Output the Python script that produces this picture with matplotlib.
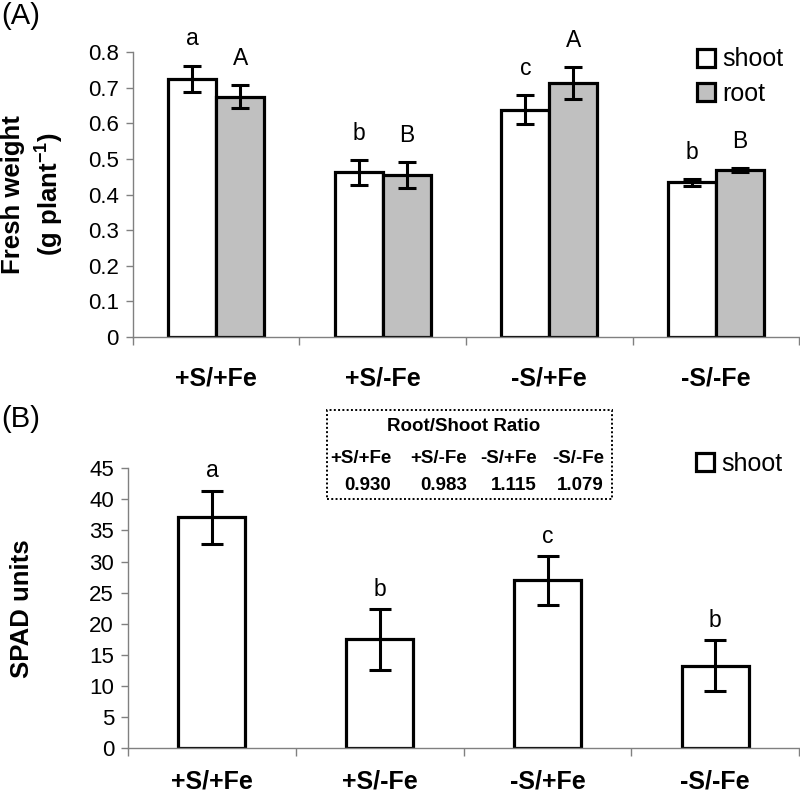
import matplotlib
matplotlib.use("Agg")
import matplotlib.pyplot as plt
from matplotlib.patches import Rectangle
import numpy as np

plt.rcParams['font.family'] = ['Liberation Sans', 'DejaVu Sans']
plt.rcParams['mathtext.fontset'] = 'custom'
plt.rcParams['mathtext.rm'] = 'Liberation Sans:bold'
plt.rcParams['mathtext.default'] = 'rm'

# ---------------- data ----------------
categories = ['+S/+Fe', '+S/-Fe', '-S/+Fe', '-S/-Fe']
shoot_fw = [0.725, 0.462, 0.638, 0.434]
shoot_fw_err = [0.037, 0.035, 0.041, 0.010]
root_fw = [0.675, 0.455, 0.712, 0.469]
root_fw_err = [0.033, 0.036, 0.045, 0.005]
shoot_letters = ['a', 'b', 'c', 'b']
root_letters = ['A', 'B', 'A', 'B']

spad = [37.1, 17.5, 27.0, 13.3]
spad_err = [4.3, 4.9, 3.9, 4.1]
spad_letters = ['a', 'b', 'c', 'b']

ratio_title = 'Root/Shoot Ratio'
ratio_labels = ['+S/+Fe', '+S/-Fe', '-S/+Fe', '-S/-Fe']
ratio_values = ['0.930', '0.983', '1.115', '1.079']

fw_ticks = [0, 0.1, 0.2, 0.3, 0.4, 0.5, 0.6, 0.7, 0.8]
spad_ticks = [0, 5, 10, 15, 20, 25, 30, 35, 40, 45]

# ---------------- style ----------------
GRAY_AX = '#808080'
ROOT_C = '#c0c0c0'
EDGE_LW = 2.3
TICK_FS = 16
XLAB_FS = 18
YLAB_FS = 18.5
LET_FS = 16.5
LEG_FS = 18
TAB_FS = 13.5

fig = plt.figure(figsize=(8.0, 7.98), dpi=100)
axA = fig.add_axes([0.166, 0.5777, 0.833, 0.3571])
axB = fig.add_axes([0.160, 0.0623, 0.839, 0.3509])

x = np.arange(len(categories))


def style_axis(ax, ticks, fmt, xpad):
    for s in ['top', 'right']:
        ax.spines[s].set_visible(False)
    for s in ['left', 'bottom']:
        ax.spines[s].set_color(GRAY_AX)
        ax.spines[s].set_linewidth(1.0)
    ax.set_xlim(-0.5, len(categories) - 0.5)
    ax.set_yticks(ticks)
    ax.set_yticklabels([fmt(t) for t in ticks], fontsize=TICK_FS)
    ax.set_ylim(ticks[0], ticks[-1])
    ax.tick_params(axis='y', direction='out', length=5, width=1, color=GRAY_AX, pad=5)
    ax.set_xticks(x)
    ax.set_xticklabels(categories, fontsize=XLAB_FS, fontweight='bold')
    ax.tick_params(axis='x', which='major', length=0, pad=xpad)
    ax.set_xticks(np.arange(len(categories) + 1) - 0.5, minor=True)
    ax.tick_params(axis='x', which='minor', direction='out', length=6, width=1, color=GRAY_AX)


# ---------------- panel A ----------------
w = 0.288
bs = axA.bar(x - w / 2, shoot_fw, w, color='white', edgecolor='black', linewidth=EDGE_LW,
             label='shoot', zorder=2)
br = axA.bar(x + w / 2, root_fw, w, color=ROOT_C, edgecolor='black', linewidth=EDGE_LW,
             label='root', zorder=2)
axA.errorbar(x - w / 2, shoot_fw, yerr=shoot_fw_err, fmt='none', ecolor='black',
             elinewidth=2.2, capsize=6.5, capthick=2.2, zorder=3)
axA.errorbar(x + w / 2, root_fw, yerr=root_fw_err, fmt='none', ecolor='black',
             elinewidth=2.2, capsize=6.5, capthick=2.2, zorder=3)
for i in range(len(categories)):
    axA.annotate(shoot_letters[i], (x[i] - w / 2, shoot_fw[i] + shoot_fw_err[i]),
                 xytext=(0, 11), textcoords='offset points', ha='center', va='bottom',
                 fontsize=LET_FS)
    axA.annotate(root_letters[i], (x[i] + w / 2, root_fw[i] + root_fw_err[i]),
                 xytext=(0, 11), textcoords='offset points', ha='center', va='bottom',
                 fontsize=LET_FS)

style_axis(axA, fw_ticks, lambda t: ('%g' % t), 21)
axA.set_ylabel('Fresh weight\n(g plant$^{-1}$)', fontsize=YLAB_FS, fontweight='bold',
               linespacing=1.35)
axA.yaxis.set_label_coords(-0.100, 0.5)
axA.legend(handles=[bs, br], loc='upper left', bbox_to_anchor=(0.846, 1.016),
           frameon=False, fontsize=LEG_FS, handlelength=0.72, handleheight=0.72,
           handletextpad=0.3, labelspacing=0.42, borderpad=0, borderaxespad=0)

# ---------------- panel B ----------------
wb = 0.40
bb = axB.bar(x, spad, wb, color='white', edgecolor='black', linewidth=EDGE_LW,
             label='shoot', zorder=2)
axB.errorbar(x, spad, yerr=spad_err, fmt='none', ecolor='black',
             elinewidth=2.2, capsize=8, capthick=2.2, zorder=3)
for i in range(len(categories)):
    axB.annotate(spad_letters[i], (x[i], spad[i] + spad_err[i]),
                 xytext=(0, 6), textcoords='offset points', ha='center', va='bottom',
                 fontsize=LET_FS)

style_axis(axB, spad_ticks, lambda t: ('%d' % t), 15.5)
axB.set_ylabel('SPAD units', fontsize=YLAB_FS, fontweight='bold')
axB.yaxis.set_label_coords(-0.140, 0.5)
axB.legend(handles=[bb], loc='upper left', bbox_to_anchor=(0.846, 1.059),
           frameon=False, fontsize=LEG_FS, handlelength=0.72, handleheight=0.72,
           handletextpad=0.3, borderpad=0, borderaxespad=0)

# ---------------- panel labels ----------------
fig.text(0.002, 0.998, '(A)', fontsize=21, ha='left', va='top')
fig.text(0.002, 0.493, '(B)', fontsize=21, ha='left', va='top')

# ---------------- ratio table ----------------
box = Rectangle((0.409, 0.3747), 0.356, 0.1115, transform=fig.transFigure,
                fill=False, edgecolor='black', linewidth=1.4, linestyle=(0, (1, 1.2)))
fig.add_artist(box)
fig.text(0.579, 0.465, ratio_title, fontsize=TAB_FS, fontweight='bold', ha='center', va='center')
col_right = [0.489, 0.584, 0.671, 0.755]
for xr, lab, val in zip(col_right, ratio_labels, ratio_values):
    fig.text(xr, 0.426, lab, fontsize=TAB_FS, fontweight='bold', ha='right', va='center')
    fig.text(xr, 0.391, val, fontsize=TAB_FS, fontweight='bold', ha='right', va='center')

fig.savefig('out.png', dpi=100)
